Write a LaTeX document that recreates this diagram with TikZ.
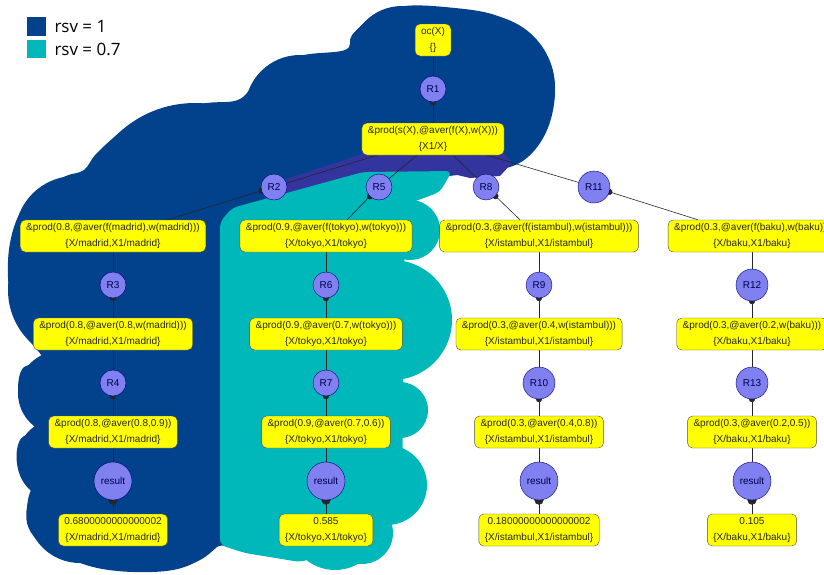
\documentclass[tikz,border=0pt]{standalone}
\usepackage{fontspec}
\setmainfont{Liberation Sans}
\newfontfamily\legendfont{Open Sans}
\usetikzlibrary{arrows.meta,backgrounds}

\definecolor{rsvone}{RGB}{2,66,140}
\definecolor{rsvsev}{RGB}{0,184,186}
\definecolor{overlap}{RGB}{52,52,158}
\definecolor{rulefill}{RGB}{128,128,240}
\definecolor{goalfill}{RGB}{255,255,0}

\begin{document}
\begin{tikzpicture}[x=1pt,y=-1pt]
				\tikzstyle{Goal}	= [draw=black!70, fill=goalfill, rounded corners=5pt, minimum height=32pt, inner xsep=6pt, inner ysep=1pt, align=center, font=\fontsize{10}{16}\selectfont, text=black!85]
				\tikzstyle{Rule}	= [draw=black!55!blue, fill=rulefill, circle, minimum size=26pt, inner sep=0pt, font=\fontsize{10}{12}\selectfont, text=black!70!blue]
				\tikzstyle{Wide}	= [minimum size=32pt]
				\tikzstyle{Result}	= [minimum size=38pt]
				\tikzstyle{Key}		= [anchor=west, font=\legendfont\fontsize{17}{20}\selectfont]
				\tikzstyle{Link}	= [draw=black!85, line width=0.6pt]
				\tikzstyle{Fire}	= [arrows={Circle[length=6pt]-}, shorten <=-3pt]
				\tikzstyle{FireBig}	= [arrows={Circle[length=9pt]-}, shorten <=-4.5pt]

				\useasboundingbox (0,0) rectangle (824,574);

				% legend
				\fill[rsvone] (27,17) rectangle (46,36);
				\fill[rsvsev] (27,40) rectangle (46,58);
				\node (kone) at (51,27) [Key] {rsv = 1};
				\node (ksev) at (51,49) [Key] {rsv = 0.7};

				\node (oc) at (433,40) [Goal] {oc(X)\\\{\}};
				\node (r1) at (433,89) [Rule] {R1};
				\node (top) at (433,139) [Goal] {\&prod(s(X),@aver(f(X),w(X)))\\\{X1/X\}};

				\node (r2) at (274,187) [Rule] {R2};
				\node (r5) at (379,187) [Rule] {R5};
				\node (r8) at (486,187) [Rule] {R8};
				\node (r11) at (594,187) [Rule][Wide] {R11};

				% madrid
				\node (m1) at (113,236) [Goal] {\&prod(0.8,@aver(f(madrid),w(madrid)))\\\{X/madrid,X1/madrid\}};
				\node (r3) at (113,285) [Rule] {R3};
				\node (m2) at (113,334) [Goal] {\&prod(0.8,@aver(0.8,w(madrid)))\\\{X/madrid,X1/madrid\}};
				\node (r4) at (113,383) [Rule] {R4};
				\node (m3) at (113,432) [Goal] {\&prod(0.8,@aver(0.8,0.9))\\\{X/madrid,X1/madrid\}};
				\node (mres) at (113,481) [Rule][Result] {result};
				\node (m4) at (113,530) [Goal] {0.6800000000000002\\\{X/madrid,X1/madrid\}};

				% tokyo
				\node (t1) at (326,236) [Goal] {\&prod(0.9,@aver(f(tokyo),w(tokyo)))\\\{X/tokyo,X1/tokyo\}};
				\node (r6) at (326,285) [Rule] {R6};
				\node (t2) at (326,334) [Goal] {\&prod(0.9,@aver(0.7,w(tokyo)))\\\{X/tokyo,X1/tokyo\}};
				\node (r7) at (326,383) [Rule] {R7};
				\node (t3) at (326,432) [Goal] {\&prod(0.9,@aver(0.7,0.6))\\\{X/tokyo,X1/tokyo\}};
				\node (tres) at (326,481) [Rule][Result] {result};
				\node (t4) at (326,530) [Goal] {0.585\\\{X/tokyo,X1/tokyo\}};

				% istanbul
				\node (i1) at (539,236) [Goal] {\&prod(0.3,@aver(f(istambul),w(istambul)))\\\{X/istambul,X1/istambul\}};
				\node (r9) at (539,285) [Rule] {R9};
				\node (i2) at (539,334) [Goal] {\&prod(0.3,@aver(0.4,w(istambul)))\\\{X/istambul,X1/istambul\}};
				\node (r10) at (539,383) [Rule][Wide] {R10};
				\node (i3) at (539,432) [Goal] {\&prod(0.3,@aver(0.4,0.8))\\\{X/istambul,X1/istambul\}};
				\node (ires) at (539,481) [Rule][Result] {result};
				\node (i4) at (539,530) [Goal] {0.18000000000000002\\\{X/istambul,X1/istambul\}};

				% baku
				\node (b1) at (752,236) [Goal] {\&prod(0.3,@aver(f(baku),w(baku)))\\\{X/baku,X1/baku\}};
				\node (r12) at (752,285) [Rule][Wide] {R12};
				\node (b2) at (752,334) [Goal] {\&prod(0.3,@aver(0.2,w(baku)))\\\{X/baku,X1/baku\}};
				\node (r13) at (752,383) [Rule][Wide] {R13};
				\node (b3) at (752,432) [Goal] {\&prod(0.3,@aver(0.2,0.5))\\\{X/baku,X1/baku\}};
				\node (bres) at (752,481) [Rule][Result] {result};
				\node (b4) at (752,530) [Goal] {0.105\\\{X/baku,X1/baku\}};

				% clouds
				\begin{scope}[on background layer]
				\fill[rsvone] plot[smooth cycle, tension=0.6] coordinates {
					(405,6) (455,8) (495,15) (528,32) (548,58) (555,90) (549,125) (533,152) (510,167)
					(470,173) (400,190) (300,260) (250,400) (235,530) (217,547) (200,560) (173,570)
					(133,572) (93,567) (57,553) (37,540) (27,523) (28,503) (38,490) (27,482) (17,463)
					(20,440) (37,427) (23,412) (18,390) (23,368) (43,360) (27,337) (13,307) (8,277)
					(10,243) (20,213) (40,190) (66,176) (84,170) (97,153) (127,127) (160,110) (207,103)
					(240,99) (262,75) (300,56) (345,50) (352,35) (372,18)};
				\fill[rsvone] (402,58) circle (52) (482,88) circle (73) (300,110) circle (55)
					(195,215) circle (112) (75,236) circle (60) (80,290) circle (72)
					(60,393) circle (42) (58,460) circle (41) (80,510) circle (53);
				\fill[overlap] (262,187) -- (365,153) -- (505,154) -- (512,163) -- (500,176)
					-- (470,178) -- (453,174) -- (363,174) -- (283,199) -- (265,201) -- cycle;
				\fill[rsvsev, rounded corners=6pt] (220,545) -- (220,222) -- (232,208) -- (363,172)
					-- (452,171) -- (440,192) -- (405,205) -- (402,505) -- (380,540) -- (300,562)
					-- (245,553) -- cycle;
				\fill[rsvsev] (410,230) circle (30) (392,320) circle (60) (400,410) circle (28)
					(387,485) circle (40) (335,524) circle (46) (362,533) circle (31);
				\end{scope}

				% edges
				\begin{scope}[on background layer]
				\draw [Link] (oc) to (r1);
				\draw [Link][Fire] (r1) to (top);
				\draw [Link] ([xshift=-56pt]top.south) to (r2);
				\draw [Link] ([xshift=-16pt]top.south) to (r5);
				\draw [Link] ([xshift=20pt]top.south) to (r8);
				\draw [Link] ([xshift=54pt]top.south) to (r11);
				\draw [Link][Fire] (r2) to ([xshift=54pt]m1.north);
				\draw [Link][Fire] (r5) to ([xshift=21pt]t1.north);
				\draw [Link][Fire] (r8) to ([xshift=-19pt]i1.north);
				\draw [Link][Fire] (r11) to ([xshift=-54pt]b1.north);

				\draw [Link] (m1) to (r3);
				\draw [Link][Fire] (r3) to (m2);
				\draw [Link] (m2) to (r4);
				\draw [Link][Fire] (r4) to (m3);
				\draw [Link] (m3) to (mres);
				\draw [Link][FireBig] (mres) to (m4);

				\draw [Link] (t1) to (r6);
				\draw [Link][Fire] (r6) to (t2);
				\draw [Link] (t2) to (r7);
				\draw [Link][Fire] (r7) to (t3);
				\draw [Link] (t3) to (tres);
				\draw [Link][FireBig] (tres) to (t4);

				\draw [Link] (i1) to (r9);
				\draw [Link][Fire] (r9) to (i2);
				\draw [Link] (i2) to (r10);
				\draw [Link][Fire] (r10) to (i3);
				\draw [Link] (i3) to (ires);
				\draw [Link][FireBig] (ires) to (i4);

				\draw [Link] (b1) to (r12);
				\draw [Link][Fire] (r12) to (b2);
				\draw [Link] (b2) to (r13);
				\draw [Link][Fire] (r13) to (b3);
				\draw [Link] (b3) to (bres);
				\draw [Link][FireBig] (bres) to (b4);
				\end{scope}
			\end{tikzpicture}
\end{document}
